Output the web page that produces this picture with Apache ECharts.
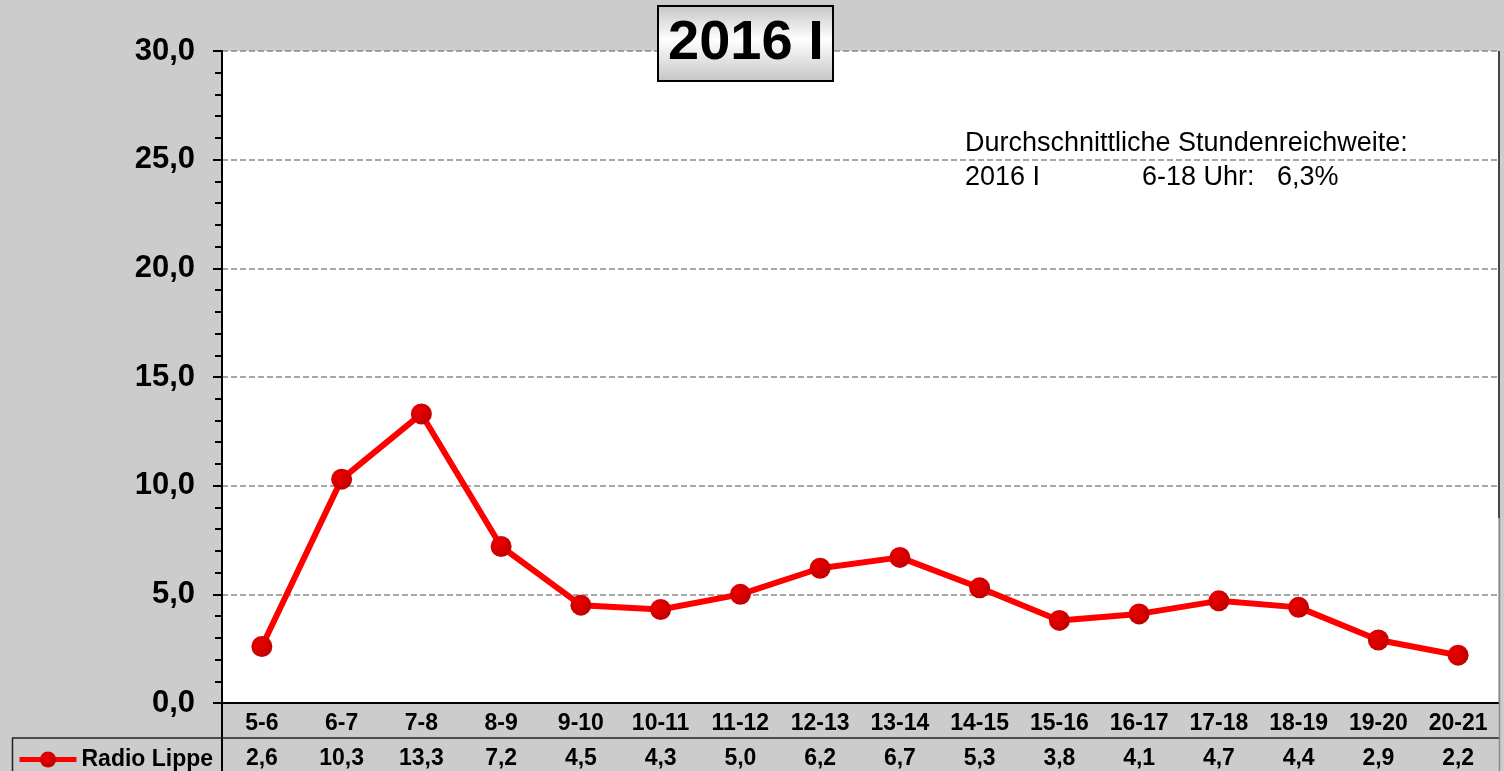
<!DOCTYPE html>
<html>
<head>
<meta charset="utf-8">
<script src="https://cdn.jsdelivr.net/npm/echarts@6/dist/echarts.min.js"></script>
<style>
	html, body { margin: 0; padding: 0; background: #cccccc; }
	#chart { width: 1504px; height: 771px; }
</style>
</head>
<body>
<div id="chart"></div>
<script>
	// Stundenintervalle (Kategorien)
	var categories = ['5-6', '6-7', '7-8', '8-9', '9-10', '10-11', '11-12', '12-13',
		'13-14', '14-15', '15-16', '16-17', '17-18', '18-19', '19-20', '20-21'];
	// Reichweite Radio Lippe in %
	var radioLippe = [2.6, 10.3, 13.3, 7.2, 4.5, 4.3, 5.0, 6.2, 6.7, 5.3, 3.8, 4.1, 4.7, 4.4, 2.9, 2.2];
	var seriesName = 'Radio Lippe';
	var titleText = '2016 I';
	var noteLine1 = 'Durchschnittliche Stundenreichweite:';
	var noteLine2 = ['2016 I', '6-18 Uhr:', '6,3%'];

	function komma(v) {
		return Number(v).toFixed(1).replace('.', ',');
	}

	var myChart = echarts.init(document.getElementById('chart'));
	var font = '"Liberation Sans", Arial, sans-serif';

	var option = {
		backgroundColor: '#cccccc',
		animation: false,
		title: {
			text: titleText,
			left: 658,
			top: 6,
			padding: [8, 10, 7, 10],
			borderColor: '#000',
			borderWidth: 2,
			backgroundColor: new echarts.graphic.LinearGradient(0, 0, 0, 1, [
				{offset: 0, color: '#c4c4c4'},
				{offset: 0.45, color: '#ffffff'},
				{offset: 1, color: '#c4c4c4'}
			]),
			textStyle: {
				fontFamily: font,
				fontWeight: 'bold',
				fontSize: 56,
				lineHeight: 60,
				color: '#000'
			},
			z: 10
		},
		legend: {
			data: [seriesName],
			left: 12,
			top: 743,
			itemWidth: 57,
			itemHeight: 20,
			itemGap: 5,
			lineStyle: { width: 5, color: '#ff0000' },
			textStyle: {
				fontFamily: font,
				fontWeight: 'bold',
				fontSize: 23,
				color: '#000'
			}
		},
		grid: {
			left: 222,
			right: 6,
			top: 51,
			bottom: 68,
			backgroundColor: '#fff',
			show: true,
			borderWidth: 0
		},
		xAxis: [{
			type: 'category',
			data: categories,
			boundaryGap: true,
			axisLine: { lineStyle: { color: '#000', width: 2 } },
			axisTick: { show: false },
			axisLabel: {
				interval: 0,
				margin: 9,
				fontFamily: font,
				fontWeight: 'bold',
				fontSize: 23,
				color: '#000'
			}
		}, {
			type: 'category',
			data: radioLippe.map(komma),
			position: 'bottom',
			offset: 37,
			axisLine: { show: false },
			axisTick: { show: false },
			axisLabel: {
				interval: 0,
				margin: 7,
				fontFamily: font,
				fontWeight: 'bold',
				fontSize: 23,
				color: '#000'
			}
		}],
		yAxis: {
			type: 'value',
			min: 0,
			max: 30,
			interval: 5,
			axisLine: { show: true, lineStyle: { color: '#000', width: 2 } },
			axisTick: { show: true, length: 9, lineStyle: { color: '#000', width: 2 } },
			minorTick: { show: true, splitNumber: 5, length: 7, lineStyle: { color: '#000', width: 2 } },
			splitLine: {
				lineStyle: { color: '#8a8a8a', width: 1.5, type: [6, 3] }
			},
			axisLabel: {
				formatter: komma,
				margin: 27,
				fontFamily: font,
				fontWeight: 'bold',
				fontSize: 31,
				color: '#000'
			}
		},
		series: [{
			name: seriesName,
			type: 'line',
			xAxisIndex: 0,
			data: radioLippe,
			symbol: 'circle',
			symbolSize: 21,
			lineStyle: { color: '#ff0000', width: 6 },
			itemStyle: {
				color: new echarts.graphic.RadialGradient(0.35, 0.35, 0.7, [
					{offset: 0, color: '#ee0000'},
					{offset: 1, color: '#c00000'}
				])
			},
			z: 5
		}],
		graphic: [
			// Tabellenlinien
			{ type: 'line', shape: {x1: 222, y1: 703, x2: 222, y2: 771}, style: {stroke: '#000', lineWidth: 2} },
			{ type: 'line', shape: {x1: 12, y1: 738, x2: 1499, y2: 738}, style: {stroke: '#222', lineWidth: 1.5} },
			{ type: 'line', shape: {x1: 12.5, y1: 738, x2: 12.5, y2: 771}, style: {stroke: '#222', lineWidth: 1.5} },
			// rechter Rand
			{ type: 'line', shape: {x1: 1499, y1: 51, x2: 1499, y2: 518}, style: {stroke: '#444', lineWidth: 2} },
			{ type: 'line', shape: {x1: 1499.5, y1: 518, x2: 1499.5, y2: 771}, style: {stroke: '#8a8a8a', lineWidth: 1.5} },
			// Hinweistext
			{ type: 'text', x: 965, y: 144, style: { text: noteLine1, font: '27px ' + font, fill: '#000', verticalAlign: 'middle' } },
			{ type: 'text', x: 965, y: 178, style: { text: noteLine2[0], font: '27px ' + font, fill: '#000', verticalAlign: 'middle' } },
			{ type: 'text', x: 1142, y: 178, style: { text: noteLine2[1], font: '27px ' + font, fill: '#000', verticalAlign: 'middle' } },
			{ type: 'text', x: 1277, y: 178, style: { text: noteLine2[2], font: '27px ' + font, fill: '#000', verticalAlign: 'middle' } }
		]
	};

	myChart.setOption(option);
</script>
</body>
</html>
